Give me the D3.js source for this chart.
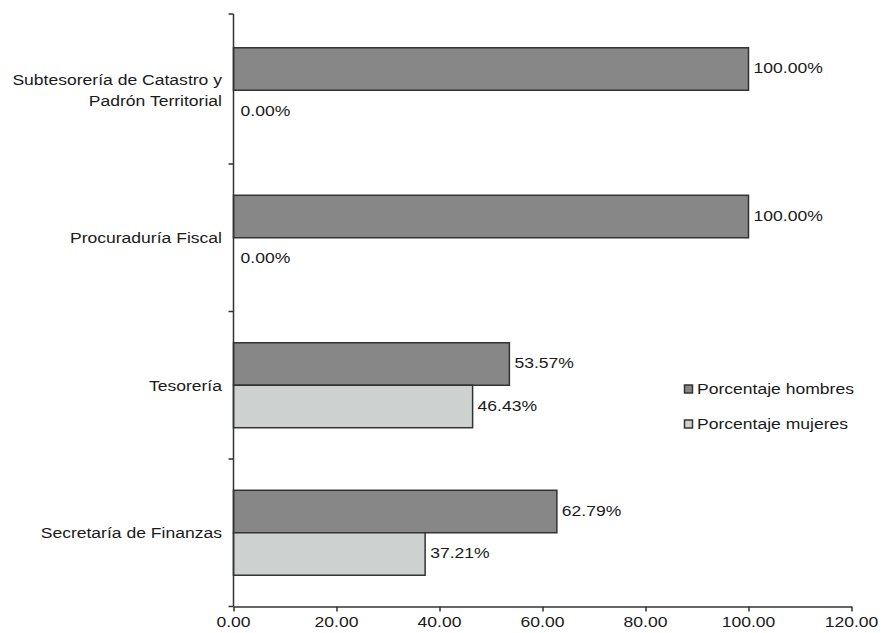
<!DOCTYPE html>
<html><head><meta charset="utf-8">
<script src="https://cdn.jsdelivr.net/npm/d3@7"></script>
<style>body{margin:0;background:#fff}svg{display:block}text{font-family:"Liberation Sans",Arial,sans-serif;fill:#1a1a1a}</style>
</head><body>
<svg id="c" width="886" height="633"></svg>
<script>
const categories = ["Subtesorería de Catastro y\nPadrón Territorial","Procuraduría Fiscal","Tesorería","Secretaría de Finanzas"];
const hombres = [100.00, 100.00, 53.57, 62.79];
const mujeres = [0.00, 0.00, 46.43, 37.21];
const seriesNames = ["Porcentaje hombres","Porcentaje mujeres"];
const seriesColors = ["#878787","#cdd1d0"];
const xTicks = [0,20,40,60,80,100,120];

const FS = 15, SX = 1.17;
const svg = d3.select("#c");
const x = d3.scaleLinear().domain([0,120]).range([233.5,851.5]);
const y = d3.scaleBand().domain(categories).range([16.5,606.5]).paddingInner(0).paddingOuter(0);
const inner = d3.scaleBand().domain([0,1]).range([0,y.bandwidth()]).paddingOuter(0.736).paddingInner(0);

function label(px, py, txt, anchor){
  return svg.append("text").attr("transform",`translate(${px},${py}) scale(${SX},1)`)
    .attr("text-anchor",anchor||"start").attr("dy","0.35em").attr("font-size",FS).text(txt);
}

const data = categories.map((c,i)=>({c, vals:[hombres[i], mujeres[i]]}));

// bars
const g = svg.append("g");
data.forEach(d=>{
  d.vals.forEach((v,j)=>{
    const yy = y(d.c)+inner(j);
    if (v>0) g.append("rect").attr("x",x(0)).attr("y",yy).attr("width",x(v)-x(0)).attr("height",inner.bandwidth())
      .attr("fill",seriesColors[j]).attr("stroke","#333").attr("stroke-width",1.5);
  });
});
data.forEach(d=>{
  d.vals.forEach((v,j)=>{
    const yy = y(d.c)+inner(j);
    label(x(v)+(v>0?5:7), yy+inner.bandwidth()/2 - 1, v.toFixed(2)+"%");
  });
});

// x axis
const xa = svg.append("g").attr("transform","translate(0,606.5)")
  .call(d3.axisBottom(x).tickValues(xTicks).tickFormat("").tickSize(5).tickSizeOuter(0));
xa.select(".domain").attr("stroke","#333").attr("stroke-width",1.5);
xa.selectAll(".tick line").attr("stroke","#333").attr("stroke-width",1.5);
xTicks.forEach(t=>label(x(t), 622, t.toFixed(2), "middle"));

// y axis
const ya = svg.append("g").attr("transform","translate(233.5,0)")
  .call(d3.axisLeft(y).tickValues([]).tickSizeOuter(0));
ya.select(".domain").attr("stroke","#333").attr("stroke-width",1.5).attr("d","M0,14V606.5");
const bounds = [14, ...categories.slice(1).map(c=>y(c)), 606.5];
ya.selectAll(".bt").data(bounds).enter().append("line").attr("class","bt")
  .attr("x1",-5).attr("x2",0).attr("y1",d=>d).attr("y2",d=>d).attr("stroke","#333").attr("stroke-width",1.5);

// category labels
categories.forEach(c=>{
  const lines = c.split("\n");
  const cy = y(c)+y.bandwidth()/2;
  lines.forEach((l,k)=> label(222, cy + (k-(lines.length-1)/2)*21, l, "end"));
});

// legend
seriesNames.forEach((s,j)=>{
  const ly = 389 + j*35;
  svg.append("rect").attr("x",684.5).attr("y",ly-4).attr("width",8).attr("height",8)
    .attr("fill",seriesColors[j]).attr("stroke","#333").attr("stroke-width",1.5);
  label(697, ly, s);
});
</script>
</body></html>
